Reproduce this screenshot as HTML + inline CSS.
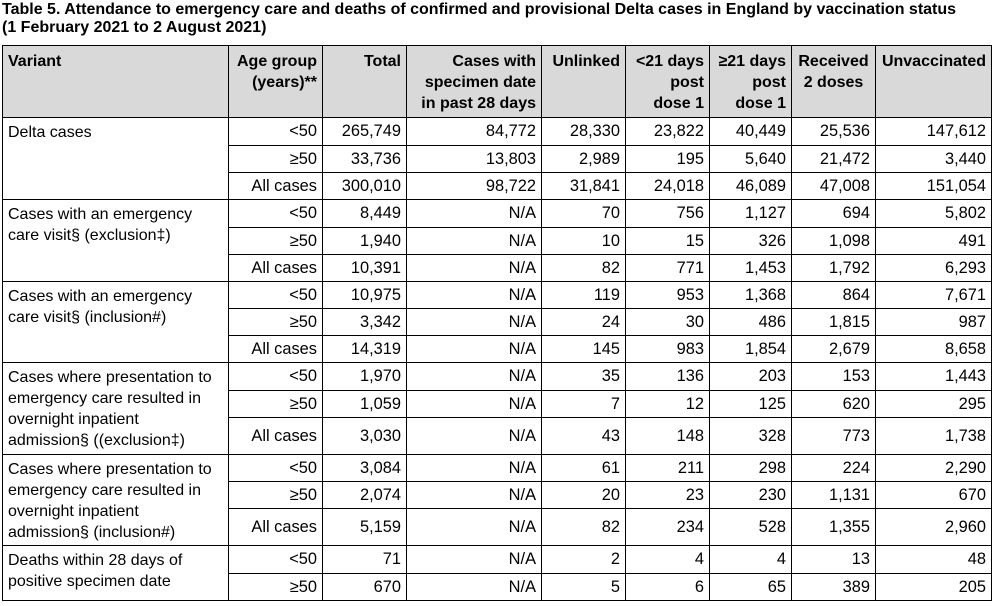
<!DOCTYPE html>
<html><head><meta charset="utf-8"><style>
body{margin:0;width:997px;height:606px;background:#fff;font-family:"Liberation Sans",Arial,sans-serif;color:#000;position:relative;overflow:hidden}
.t{position:absolute;left:2px;top:1px;font-weight:bold;font-size:16px;line-height:18px}
table{position:absolute;left:2px;top:45px;border-collapse:collapse;table-layout:fixed;font-size:16px}
td,th{border:1px solid #000;padding:0 5px;white-space:nowrap;text-align:right;vertical-align:middle;line-height:21px;overflow:hidden}
td{font-size:16.4px}
td.v{text-align:left;vertical-align:top;white-space:normal;padding-top:4px;font-size:16px}
th{background:#d9d9d9;vertical-align:top;padding-top:5px;line-height:21px}
th.l{text-align:left}
th.c{text-align:center}
</style></head><body>
<div class="t">Table 5. Attendance to emergency care and deaths of confirmed and provisional Delta cases in England by vaccination status<br>(1 February 2021 to 2 August 2021)</div>
<table>
<colgroup><col style="width:226px"><col style="width:94px"><col style="width:84px"><col style="width:135px"><col style="width:84px"><col style="width:84px"><col style="width:82px"><col style="width:84px"><col style="width:116px"></colgroup>
<tr style="height:72px"><th class="l">Variant</th><th>Age group<br>(years)**</th><th>Total</th><th>Cases with<br>specimen date<br>in past 28 days</th><th>Unlinked</th><th>&lt;21 days<br>post<br>dose 1</th><th>≥21 days<br>post<br>dose 1</th><th class="c">Received<br>2 doses</th><th>Unvaccinated</th></tr>
<tr style="height:28px"><td class="v" rowspan="3">Delta cases</td><td>&lt;50</td><td>265,749</td><td>84,772</td><td>28,330</td><td>23,822</td><td>40,449</td><td>25,536</td><td>147,612</td></tr>
<tr style="height:27px"><td>≥50</td><td>33,736</td><td>13,803</td><td>2,989</td><td>195</td><td>5,640</td><td>21,472</td><td>3,440</td></tr>
<tr style="height:27px"><td>All cases</td><td>300,010</td><td>98,722</td><td>31,841</td><td>24,018</td><td>46,089</td><td>47,008</td><td>151,054</td></tr>
<tr style="height:28px"><td class="v" rowspan="3">Cases with an emergency care visit§ (exclusion‡)</td><td>&lt;50</td><td>8,449</td><td>N/A</td><td>70</td><td>756</td><td>1,127</td><td>694</td><td>5,802</td></tr>
<tr style="height:27px"><td>≥50</td><td>1,940</td><td>N/A</td><td>10</td><td>15</td><td>326</td><td>1,098</td><td>491</td></tr>
<tr style="height:27px"><td>All cases</td><td>10,391</td><td>N/A</td><td>82</td><td>771</td><td>1,453</td><td>1,792</td><td>6,293</td></tr>
<tr style="height:27px"><td class="v" rowspan="3">Cases with an emergency care visit§ (inclusion#)</td><td>&lt;50</td><td>10,975</td><td>N/A</td><td>119</td><td>953</td><td>1,368</td><td>864</td><td>7,671</td></tr>
<tr style="height:27px"><td>≥50</td><td>3,342</td><td>N/A</td><td>24</td><td>30</td><td>486</td><td>1,815</td><td>987</td></tr>
<tr style="height:27px"><td>All cases</td><td>14,319</td><td>N/A</td><td>145</td><td>983</td><td>1,854</td><td>2,679</td><td>8,658</td></tr>
<tr style="height:28px"><td class="v" rowspan="3">Cases where presentation to emergency care resulted in overnight inpatient admission§ ((exclusion‡)</td><td>&lt;50</td><td>1,970</td><td>N/A</td><td>35</td><td>136</td><td>203</td><td>153</td><td>1,443</td></tr>
<tr style="height:27px"><td>≥50</td><td>1,059</td><td>N/A</td><td>7</td><td>12</td><td>125</td><td>620</td><td>295</td></tr>
<tr style="height:37px"><td>All cases</td><td>3,030</td><td>N/A</td><td>43</td><td>148</td><td>328</td><td>773</td><td>1,738</td></tr>
<tr style="height:27px"><td class="v" rowspan="3">Cases where presentation to emergency care resulted in overnight inpatient admission§ (inclusion#)</td><td>&lt;50</td><td>3,084</td><td>N/A</td><td>61</td><td>211</td><td>298</td><td>224</td><td>2,290</td></tr>
<tr style="height:27px"><td>≥50</td><td>2,074</td><td>N/A</td><td>20</td><td>23</td><td>230</td><td>1,131</td><td>670</td></tr>
<tr style="height:37px"><td>All cases</td><td>5,159</td><td>N/A</td><td>82</td><td>234</td><td>528</td><td>1,355</td><td>2,960</td></tr>
<tr style="height:28px"><td class="v" rowspan="2">Deaths within 28 days of positive specimen date</td><td>&lt;50</td><td>71</td><td>N/A</td><td>2</td><td>4</td><td>4</td><td>13</td><td>48</td></tr>
<tr style="height:27px"><td>≥50</td><td>670</td><td>N/A</td><td>5</td><td>6</td><td>65</td><td>389</td><td>205</td></tr>
</table>
</body></html>
